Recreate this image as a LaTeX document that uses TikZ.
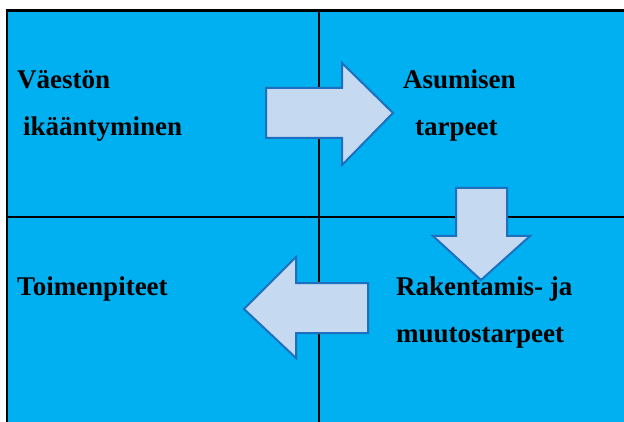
\documentclass[tikz,border=0pt]{standalone}
\usepackage{fontspec}
\setmainfont{Liberation Serif}
\usepackage{tikz}
\usetikzlibrary{positioning}

\definecolor{cellblue}{RGB}{0,176,240}
\definecolor{arrowfill}{RGB}{197,217,241}
\definecolor{arrowline}{RGB}{30,112,190}

\begin{document}
\begin{tikzpicture}[
    x=1pt, y=-1pt,
    label/.style = {anchor=base west, inner sep=0pt, font=\fontsize{27}{31}\selectfont\bfseries},
    grid/.style = {line width=2pt, black},
    blockarrow/.style = {fill=arrowfill, draw=arrowline, line width=2pt, line join=miter}
]
\useasboundingbox (0,0) rectangle (624,422);
\clip (0,0) rectangle (624,422);

% Background and grid
\fill[cellblue] (7,10.5) rectangle (630,430);
\draw[grid, line width=2.5pt] (7,430) -- (7,10.5) -- (630,10.5);
\draw[grid] (319,10.5) -- (319,430);
\draw[grid] (7,217) -- (630,217);

% Arrows
\draw[blockarrow] (266,88) -- (342,88) -- (342,63) -- (393,113) -- (342,165)
    -- (342,138) -- (266,138) -- cycle;
\draw[blockarrow] (456,188) -- (507,188) -- (507,236) -- (530,236) -- (481,280)
    -- (433,236) -- (456,236) -- cycle;
\draw[blockarrow] (368,283) -- (296,283) -- (296,257) -- (244,309) -- (296,358)
    -- (296,333) -- (368,333) -- cycle;

% Labels
\node[label] (vaesto) at (17,89) {Väestön};
\node[label] (ikaant) at (23,136) {ikääntyminen};
\node[label] (asumis) at (403,89) {Asumisen};
\node[label] (tarpeet) at (415,136) {tarpeet};
\node[label] (toimet) at (17,295) {Toimenpiteet};
\node[label] (rakent) at (396,295) {Rakentamis- ja};
\node[label] (muutos) at (396,342) {muutostarpeet};

\end{tikzpicture}
\end{document}
